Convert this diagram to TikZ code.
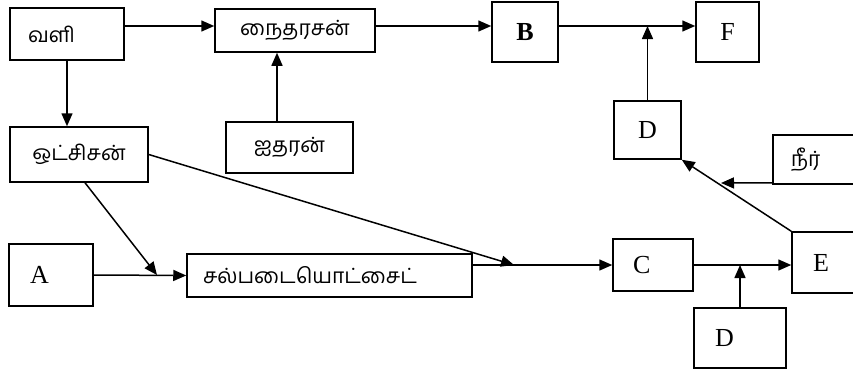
\documentclass[tikz,border=0pt]{standalone}
\usepackage{fontspec}
\setmainfont{Liberation Serif}
\newfontfamily\tamil[Script=Tamil]{Hind Madurai}
\usetikzlibrary{arrows.meta}

\tikzset{
	box/.style={draw, line width=1.5pt, inner sep=0pt},
	lbox/.style 2 args={box, align=left, inner xsep=#1, text width=#2},
	lat/.style={font=\fontsize{26}{30}\selectfont},
	tam/.style={font=\tamil\fontsize{21}{26}\selectfont},
	arr/.style={line width=1.5pt, -{Triangle[length=13pt,width=11pt]}}
}

\begin{document}
\begin{tikzpicture}[x=1pt,y=-1pt]
			\clip (0,0) rectangle (853,372);
			
			\node[lbox={18pt}{78pt}, minimum height=52pt, tam] (vali) at (67,34) {வளி};
			\node[box, minimum width=160pt, minimum height=43pt, tam] (naik) at (295,30.5) {நைதரசன்};
			\node[box, minimum width=127pt, minimum height=51pt, tam] (aith) at (289.5,147.5) {ஐதரன்};
			\node[box, minimum width=138pt, minimum height=55pt, tam] (oxy) at (79,154.5) {ஒட்சிசன்};
			\node[box, minimum width=66pt, minimum height=60pt, lat] (B) at (525,32) {\textbf{B}};
			\node[box, minimum width=63pt, minimum height=60pt, lat] (F) at (727.5,32) {F};
			\node[box, minimum width=67pt, minimum height=58pt, lat] (D1) at (647.5,130) {D};
			\node[lbox={18pt}{51pt}, minimum height=49pt, tam] (neer) at (816.5,159.5) {நீர்};
			\node[lbox={21pt}{42pt}, minimum height=62pt, lat] (A) at (51,275) {A};
			\node[lbox={16pt}{253pt}, minimum height=43pt, tam] (salp) at (329.5,275.5) {சல்படையொட்சைட்};
			\node[lbox={20pt}{40pt}, minimum height=52pt, lat] (C) at (653,265) {C};
			\node[lbox={21pt}{26pt}, minimum height=61pt, lat] (E) at (826,262.5) {E};
			\node[lbox={21pt}{50pt}, minimum height=60pt, lat] (D2) at (740,338) {D};
			
			\coordinate (toprow) at (0,26);
			\coordinate (hx) at (277,0);
			\coordinate (ja) at (157,275);
			\coordinate (jc) at (514,265);
			\coordinate (jn) at (721,183);
			
			\draw[arr] (vali.east |- toprow) -- (naik.west |- toprow);
			\draw[arr] (naik.east |- toprow) -- (B.west |- toprow);
			\draw[arr] (B.east |- toprow) -- (F.west |- toprow);
			\draw[arr] (D1.north) -- (D1.north |- toprow);
			\draw[arr] (vali.south) -- (vali.south |- oxy.north);
			\draw[arr] (aith.north -| hx) -- (naik.south -| hx);
			
			\draw[arr] (oxy.south) ++(6,0) -- (ja);
			\draw[arr] (A.east) -- (salp.west);
			\draw[arr] (oxy.east) -- (jc);
			\draw[arr] (salp.east |- C.west) -- (C.west);
			\draw[arr] (C.east) -- (C.east -| E.west);
			\draw[arr] (D2.north) -- (D2.north |- C.east);
			\draw[arr] (E.north west) -- (D1.south east);
			\draw[arr] (neer.south west) ++(0,-2) -- (jn);
		\end{tikzpicture}
\end{document}
